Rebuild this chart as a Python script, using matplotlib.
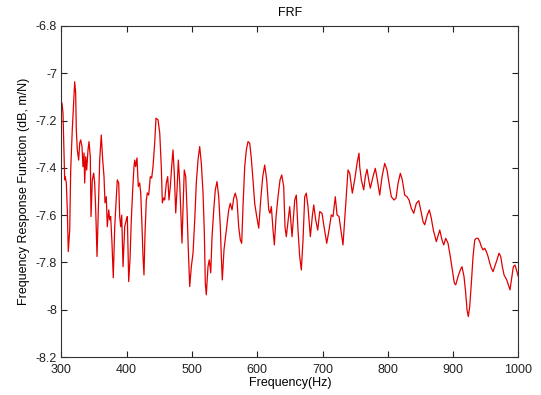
import numpy as np
import matplotlib
matplotlib.use("Agg")
import matplotlib.pyplot as plt

# FRF curve (Hz, dB m/N)
freq = [301.1, 302.6, 303.7, 305.2, 306.1, 307.7, 309.2, 310.7, 312.9, 314.4,
        316.8, 319.0, 320.5, 322.0, 323.0, 324.5, 326.6, 328.2, 329.7, 331.7,
        333.2, 334.8, 335.8, 337.4, 338.9, 340.9, 342.4, 344.4, 345.5, 347.5,
        349.6, 351.1, 352.7, 354.7, 356.7, 358.8, 361.2, 363.4, 365.4, 366.9,
        368.9, 370.4, 372.6, 374.1, 375.6, 377.6, 379.6, 381.8, 384.2, 385.7,
        387.9, 389.4, 391.0, 392.5, 394.5, 397.1, 399.5, 401.1, 403.2, 405.2,
        407.2, 409.3, 411.3, 412.4, 413.9, 415.9, 417.9, 420.0, 421.6, 423.6,
        425.1, 426.6, 428.2, 430.2, 431.7, 433.8, 436.3, 438.4, 440.4, 443.0,
        445.0, 448.1, 450.7, 453.1, 454.7, 456.8, 458.3, 460.8, 462.9, 464.9,
        466.9, 469.0, 471.0, 473.0, 475.2, 477.2, 479.2, 481.3, 483.3, 484.8,
        486.3, 488.3, 490.5, 492.5, 494.5, 496.6, 499.1, 501.7, 504.3, 506.7,
        509.3, 511.9, 514.4, 517.0, 519.0, 520.5, 522.0, 524.6, 526.6, 528.8,
        530.8, 533.4, 535.8, 538.4, 541.0, 543.5, 545.0, 546.5, 549.1, 552.6,
        556.3, 558.8, 561.4, 564.0, 566.4, 569.0, 571.6, 574.1, 576.2, 578.2,
        580.8, 583.3, 585.9, 588.5, 590.9, 593.5, 596.1, 599.2, 602.3, 605.3,
        608.4, 611.4, 614.5, 617.6, 619.6, 621.6, 624.2, 626.2, 628.8, 631.8,
        634.9, 637.5, 640.5, 642.5, 644.5, 649.7, 653.3, 657.4, 659.8, 662.4,
        665.0, 667.5, 670.1, 672.7, 675.1, 677.7, 681.3, 684.3, 686.5, 689.5,
        692.6, 695.7, 699.2, 702.3, 706.4, 709.9, 713.4, 716.0, 719.5, 722.2,
        725.2, 728.7, 731.3, 734.9, 739.0, 741.6, 745.6, 749.2, 752.8, 755.8,
        756.9, 759.4, 763.0, 765.5, 768.1, 770.7, 773.1, 777.3, 780.8, 783.9,
        787.5, 791.1, 795.2, 798.7, 801.8, 805.3, 809.4, 812.5, 815.6, 819.1,
        822.1, 825.8, 829.3, 832.4, 835.9, 839.6, 843.6, 847.3, 850.3, 853.8,
        856.4, 860.4, 863.5, 866.5, 869.6, 872.2, 874.2, 879.4, 882.9, 885.5,
        888.6, 892.1, 895.6, 898.7, 901.8, 903.9, 907.4, 910.9, 913.5, 916.6,
        919.2, 921.2, 923.2, 925.3, 927.8, 930.4, 933.0, 935.4, 938.0, 940.7,
        943.1, 945.7, 948.3, 950.8, 953.4, 956.0, 958.4, 961.0, 963.6, 967.1,
        970.2, 972.8, 975.3, 977.9, 982.0, 987.0, 992.1, 994.7, 999.8]

frf = [-7.127, -7.168, -7.282, -7.451, -7.438, -7.464, -7.578, -7.754, -7.663, -7.409,
       -7.240, -7.113, -7.036, -7.083, -7.240, -7.324, -7.367, -7.295, -7.282, -7.310,
       -7.395, -7.337, -7.464, -7.353, -7.409, -7.324, -7.289, -7.353, -7.606, -7.451,
       -7.422, -7.464, -7.578, -7.775, -7.578, -7.367, -7.261, -7.367, -7.437, -7.548,
       -7.522, -7.649, -7.578, -7.620, -7.606, -7.718, -7.865, -7.649, -7.522, -7.451,
       -7.464, -7.606, -7.649, -7.600, -7.818, -7.649, -7.620, -7.606, -7.881, -7.789,
       -7.620, -7.493, -7.395, -7.367, -7.395, -7.358, -7.479, -7.464, -7.506, -7.649,
       -7.775, -7.853, -7.675, -7.536, -7.506, -7.515, -7.437, -7.443, -7.395, -7.295,
       -7.190, -7.197, -7.252, -7.395, -7.548, -7.527, -7.536, -7.464, -7.437, -7.536,
       -7.479, -7.395, -7.324, -7.422, -7.591, -7.493, -7.367, -7.464, -7.606, -7.718,
       -7.578, -7.409, -7.437, -7.578, -7.747, -7.902, -7.818, -7.760, -7.620, -7.464,
       -7.367, -7.310, -7.381, -7.506, -7.675, -7.888, -7.937, -7.818, -7.789, -7.844,
       -7.691, -7.578, -7.493, -7.458, -7.522, -7.649, -7.775, -7.874, -7.747, -7.663,
       -7.578, -7.550, -7.578, -7.528, -7.507, -7.536, -7.649, -7.705, -7.719, -7.564,
       -7.395, -7.324, -7.289, -7.296, -7.359, -7.451, -7.550, -7.606, -7.655, -7.536,
       -7.437, -7.388, -7.451, -7.578, -7.592, -7.564, -7.663, -7.726, -7.606, -7.522,
       -7.451, -7.430, -7.479, -7.649, -7.691, -7.564, -7.691, -7.536, -7.515, -7.663,
       -7.775, -7.832, -7.705, -7.522, -7.507, -7.564, -7.691, -7.606, -7.557, -7.620,
       -7.663, -7.585, -7.592, -7.649, -7.719, -7.663, -7.599, -7.606, -7.522, -7.599,
       -7.606, -7.676, -7.726, -7.578, -7.409, -7.423, -7.507, -7.451, -7.381, -7.338,
       -7.395, -7.451, -7.493, -7.437, -7.406, -7.451, -7.486, -7.437, -7.402, -7.451,
       -7.515, -7.437, -7.381, -7.409, -7.465, -7.522, -7.536, -7.528, -7.465, -7.423,
       -7.451, -7.515, -7.522, -7.536, -7.571, -7.592, -7.550, -7.539, -7.578, -7.627,
       -7.641, -7.599, -7.578, -7.613, -7.663, -7.691, -7.712, -7.663, -7.705, -7.726,
       -7.698, -7.719, -7.775, -7.832, -7.888, -7.895, -7.860, -7.832, -7.818, -7.860,
       -7.930, -8.001, -8.029, -7.987, -7.888, -7.775, -7.705, -7.698, -7.698, -7.712,
       -7.733, -7.747, -7.740, -7.754, -7.775, -7.803, -7.824, -7.839, -7.818, -7.789,
       -7.761, -7.775, -7.818, -7.853, -7.874, -7.916, -7.818, -7.811, -7.860]

xticks = [300, 400, 500, 600, 700, 800, 900, 1000]
yticks = [-8.2, -8, -7.8, -7.6, -7.4, -7.2, -7, -6.8]
ytick_labels = ['-8.2', '-8', '-7.8', '-7.6', '-7.4', '-7.2', '-7', '-6.8']

plt.rcParams['font.family'] = ['Liberation Sans', 'DejaVu Sans']
plt.rcParams['font.size'] = 9

fig = plt.figure(figsize=(5.41, 3.95), dpi=100)
ax = fig.add_axes([0.1133, 0.0962, 0.8451, 0.838])
ax.plot(freq, frf, color='#e00000', linewidth=0.9)

ax.set_xlim(300, 1000)
ax.set_ylim(-8.2, -6.8)
ax.set_xticks(xticks)
ax.set_yticks(yticks)
ax.set_yticklabels(ytick_labels)
ax.tick_params(direction='in', length=4, width=0.8, top=True, right=True,
               colors='#222222', labelcolor='#222222')
ax.tick_params(axis='x', pad=5)
ax.tick_params(axis='y', pad=3)
for s in ax.spines.values():
    s.set_linewidth(0.8)
    s.set_color('#333333')

ax.set_title('FRF', fontsize=9, pad=7)
ax.set_xlabel('Frequency(Hz)', labelpad=1)
ax.set_ylabel('Frequency Response Function (dB, m/N)', labelpad=4)

fig.savefig('out.png', dpi=100)
